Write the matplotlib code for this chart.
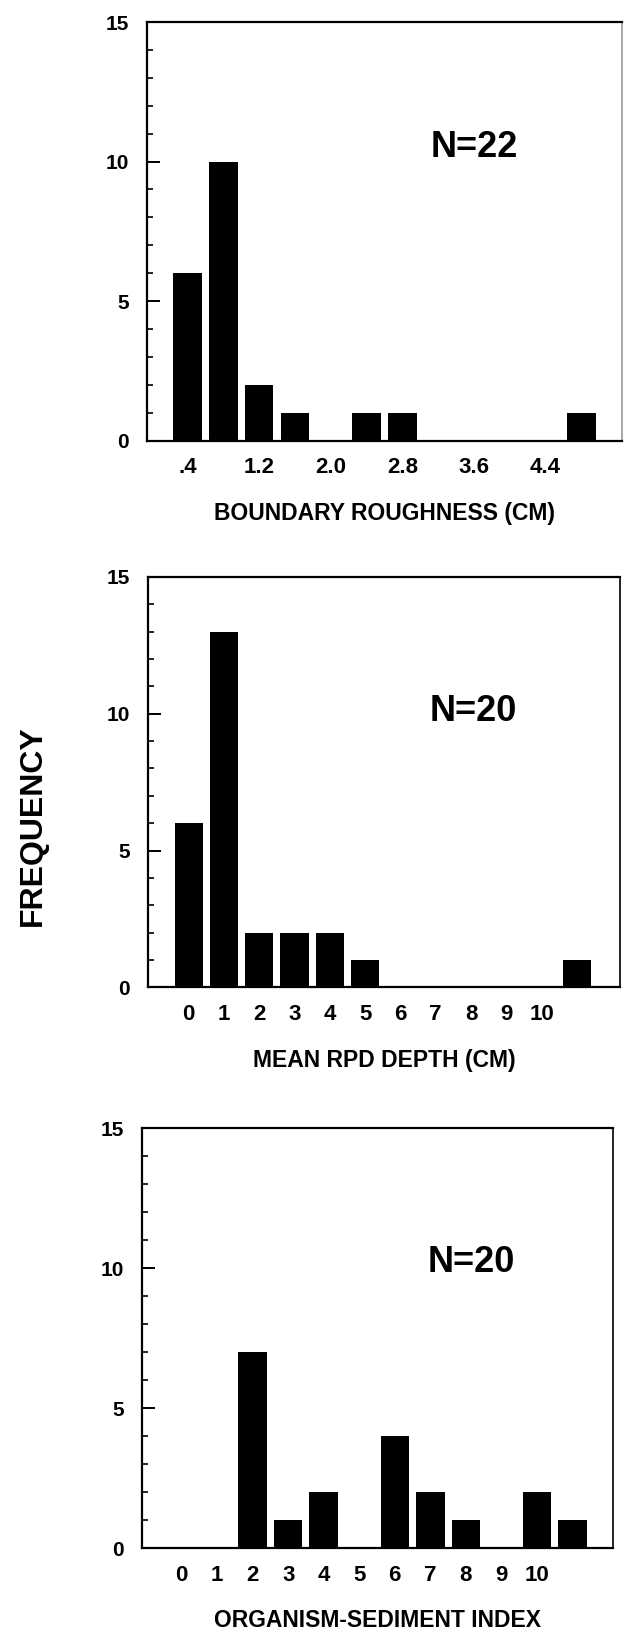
import matplotlib.pyplot as plt
from matplotlib.ticker import MultipleLocator

plt.rcParams['font.family'] = ['Liberation Sans', 'DejaVu Sans']
plt.rcParams['font.weight'] = 'bold'

# boundary roughness bins (cm) and counts
rough_bins = [0.4, 0.8, 1.2, 1.6, 2.0, 2.4, 2.8, 3.2, 3.6, 4.0, 4.4, 4.8]
rough_counts = [6, 10, 2, 1, 0, 1, 1, 0, 0, 0, 0, 1]
rough_ticks = [0.4, 1.2, 2.0, 2.8, 3.6, 4.4]
rough_ticklabels = ['.4', '1.2', '2.0', '2.8', '3.6', '4.4']

# mean rpd depth (cm)
rpd_bins = list(range(12))
rpd_counts = [6, 13, 2, 2, 2, 1, 0, 0, 0, 0, 0, 1]

# organism-sediment index
osi_bins = list(range(12))
osi_counts = [0, 0, 7, 1, 2, 0, 4, 2, 1, 0, 2, 1]

int_ticks = list(range(11))
int_ticklabels = [str(i) for i in int_ticks]

W, H = 628, 1635
fig = plt.figure(figsize=(W / 100, H / 100), dpi=100)

def add_axes(left, right, top, bottom):
    return fig.add_axes([left / W, 1 - bottom / H, (right - left) / W, (bottom - top) / H])

def style(ax, xlabel, ntext, nx, ny, right_col='black'):
    ax.set_ylim(0, 15)
    ax.yaxis.set_major_locator(MultipleLocator(5))
    ax.yaxis.set_minor_locator(MultipleLocator(1))
    ax.tick_params(axis='y', which='major', direction='in', length=9, width=1.4,
                   pad=13, labelsize=15)
    ax.tick_params(axis='y', which='minor', direction='in', length=4, width=1.2)
    ax.tick_params(axis='x', which='both', length=0, pad=12, labelsize=16)
    for s in ['left', 'top', 'bottom']:
        ax.spines[s].set_linewidth(1.6)
    ax.spines['right'].set_linewidth(1.2)
    ax.spines['right'].set_color(right_col)
    ax.set_xlabel(xlabel, fontsize=16.5, fontweight='bold', labelpad=17)
    ax.text(nx, ny, ntext, transform=ax.transAxes,
            fontsize=26, fontweight='bold', ha='center', va='center')

# top panel
ax1 = add_axes(146.7, 621.7, 22, 440.7)
ax1.bar(rough_bins, rough_counts, width=0.32, color='black')
ax1.set_xlim(-0.056, 5.25)
ax1.set_xticks(rough_ticks)
ax1.set_xticklabels(rough_ticklabels)
style(ax1, 'BOUNDARY ROUGHNESS (CM)', 'N=22', 0.69, 10.5 / 15, right_col='#9a9a9a')

# middle panel
ax2 = add_axes(147.7, 620, 577, 987.3)
ax2.bar(rpd_bins, rpd_counts, width=0.8, color='black')
ax2.set_xlim(-1.16, 12.22)
ax2.set_xticks(int_ticks)
ax2.set_xticklabels(int_ticklabels)
style(ax2, 'MEAN RPD DEPTH (CM)', 'N=20', 0.69, 10.1 / 15)

# bottom panel
ax3 = add_axes(141.7, 613, 1128, 1548)
ax3.bar(osi_bins, osi_counts, width=0.8, color='black')
ax3.set_xlim(-1.12, 12.14)
ax3.set_xticks(int_ticks)
ax3.set_xticklabels(int_ticklabels)
style(ax3, 'ORGANISM-SEDIMENT INDEX', 'N=20', 0.70, 10.2 / 15)

fig.text(33 / W, 1 - 826 / H, 'FREQUENCY', rotation=90, fontsize=23,
         fontweight='bold', ha='center', va='center')

fig.savefig('out.png', dpi=100)
